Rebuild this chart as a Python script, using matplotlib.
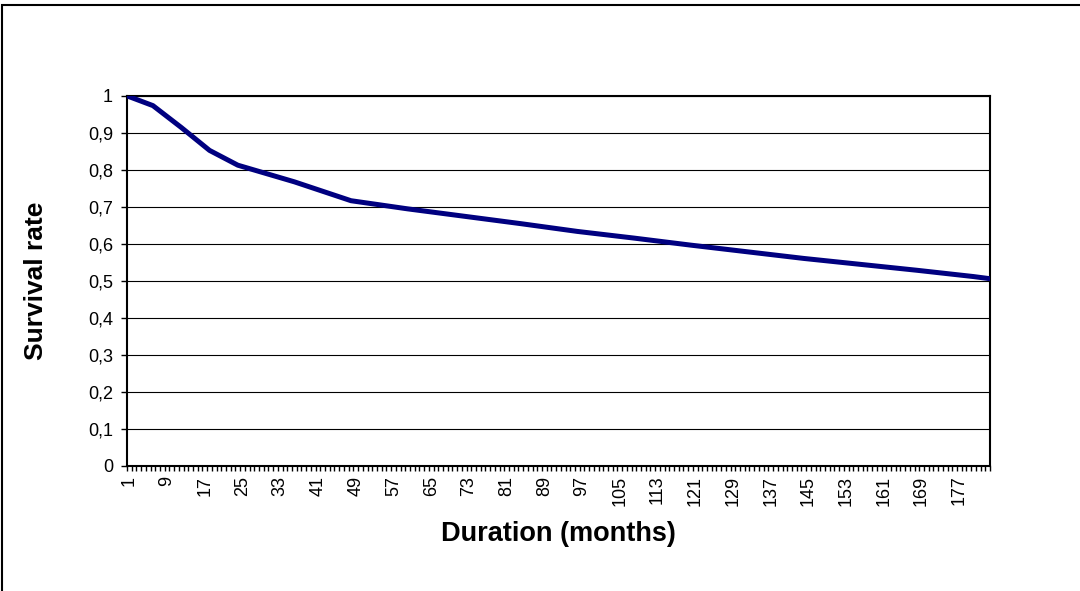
import matplotlib
matplotlib.use("Agg")
import matplotlib.pyplot as plt
from matplotlib.patches import Rectangle
from matplotlib.ticker import FixedLocator, MultipleLocator

plt.rcParams['font.family'] = ['Liberation Sans', 'DejaVu Sans']

# survival curve, read at selected month categories
months = [1, 6, 12, 18, 24, 36, 48, 60, 72, 84, 96, 108, 120, 132, 144, 156, 168, 180, 183]
survival = [0.998, 0.974, 0.915, 0.853, 0.813, 0.768, 0.717, 0.695, 0.675, 0.655, 0.634,
            0.616, 0.597, 0.579, 0.561, 0.545, 0.529, 0.512, 0.507]
n_months = 183
xtick_labels = list(range(1, 178, 8))
yticks = [i / 10 for i in range(11)]
ytick_labels = ['0', '0,1', '0,2', '0,3', '0,4', '0,5', '0,6', '0,7', '0,8', '0,9', '1']

fig = plt.figure(figsize=(10.8, 5.91), dpi=100)
ax = fig.add_axes([127 / 1080, 1 - 466 / 591, 863 / 1080, 370 / 591])

ax.plot(months, survival, color='#000080', lw=3.6, solid_joinstyle='round', zorder=3)

ax.set_xlim(0.5, n_months + 0.5)
ax.set_ylim(0, 1)

# categories sit between tick marks, labels every 8th month
ax.xaxis.set_major_locator(FixedLocator(xtick_labels))
ax.set_xticklabels([str(v) for v in xtick_labels], rotation=90, fontsize=13)
ax.xaxis.set_minor_locator(MultipleLocator(1, offset=0.5))
ax.tick_params(axis='x', which='major', length=0, pad=7)
ax.tick_params(axis='x', which='minor', length=3.5, width=1, direction='out')

ax.set_yticks(yticks)
ax.set_yticklabels(ytick_labels, fontsize=13)
ax.tick_params(axis='y', length=4, width=1, direction='out', pad=6)

ax.grid(axis='y', color='black', lw=0.8)
ax.set_axisbelow(True)
for side in ['left', 'bottom', 'right', 'top']:
    ax.spines[side].set_linewidth(1.5)
    ax.spines[side].set_color('black')

ax.set_ylabel('Survival rate', fontsize=19, fontweight='bold')
ax.set_xlabel('Duration (months)', fontsize=19.5, fontweight='bold')
ax.yaxis.set_label_coords(-(127 - 48) / 863, 0.5)
ax.xaxis.set_label_coords(0.5, -(521 - 466) / 370)

# chart border
fig.add_artist(Rectangle((2 / 1080, -0.5), 2.0, 1.5 - 5 / 591, transform=fig.transFigure,
                         fill=False, ec='black', lw=1.5))

fig.savefig('out.png', dpi=100, facecolor='white')
